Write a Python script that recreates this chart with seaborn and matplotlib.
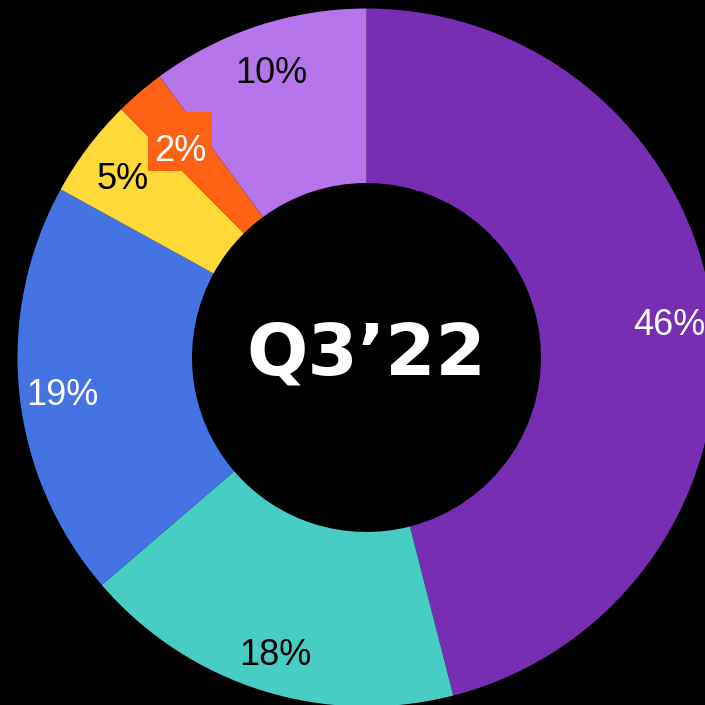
import numpy as np
import matplotlib
matplotlib.use("Agg")
import matplotlib.pyplot as plt
from matplotlib.path import Path
import seaborn as sns

sns.set_theme(style="white")
plt.rcParams['font.family'] = ['Liberation Sans', 'DejaVu Sans']

# Data (clockwise from 12 o'clock)
segments = ["A", "B", "C", "D", "E", "F"]
shares = [46, 17.7, 19.3, 4.6, 2.3, 10.1]
pct_labels = ["46%", "18%", "19%", "5%", "2%", "10%"]
label_colors = ["white", "black", "white", "black", "white", "black"]
center_title = "Q3\u201922"

palette = sns.color_palette(["#782EB3", "#48CDC4", "#4673E4", "#FFD937", "#FF6114", "#B675EB"])


def label_box(x0, y0, width, height, mutation_size):
    l, r, b, t = 0.16, 0.16, 0.06, 0.62
    xa, xb = x0 - l * mutation_size, x0 + width + r * mutation_size
    ya, yb = y0 - b * mutation_size, y0 + height + t * mutation_size
    return Path([(xa, ya), (xb, ya), (xb, yb), (xa, yb), (xa, ya)], closed=True)


fig = plt.figure(figsize=(7.05, 7.05), dpi=100, facecolor="black")
ax = fig.add_axes([0, 0, 1, 1])
ax.set_facecolor("black")

wedges, _ = ax.pie(shares, colors=palette, startangle=90, counterclock=False,
                   radius=1.0, wedgeprops=dict(width=0.5, linewidth=0))

cap_off = 16 / 349
for i, w in enumerate(wedges):
    ang = np.deg2rad((w.theta1 + w.theta2) / 2)
    r = 0.80 if pct_labels[i] == "2%" else 0.875
    x, y = r * np.cos(ang), r * np.sin(ang)
    kw = {}
    if pct_labels[i] == "2%":
        kw["bbox"] = dict(boxstyle=label_box, fc=palette[i], ec="none")
        x -= 5 / 349
    ax.text(x, y - cap_off, pct_labels[i], ha="center", va="baseline", fontsize=26,
            color=label_colors[i], **kw)

ax.text(0, -0.050, center_title, ha="center", va="baseline", fontsize=52,
        fontweight="bold", color="white", family=["DejaVu Sans"])

ax.set_aspect("auto")
ax.set_xlim(-366.5 / 349, (705 - 366.5) / 349)
ax.set_ylim(-347.5 / 349, 357.5 / 349)
ax.axis("off")

fig.savefig("out.png", dpi=100, facecolor="black")
